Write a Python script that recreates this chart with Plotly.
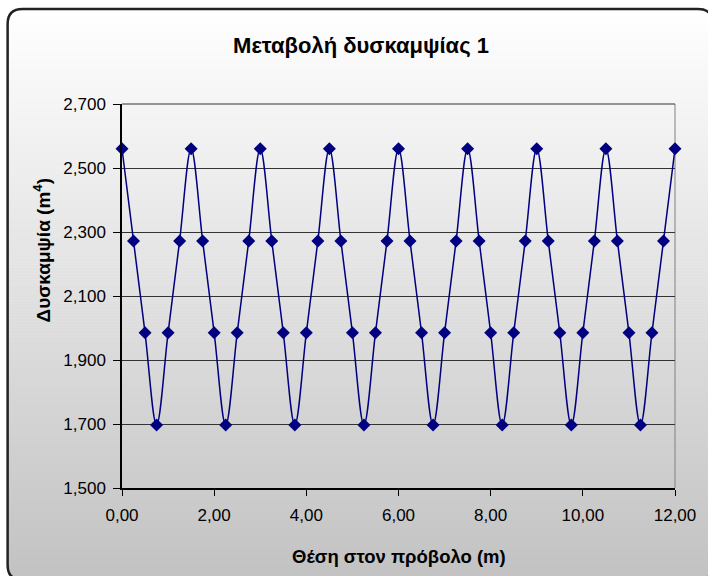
import plotly.graph_objects as go
import math

# ---- data ----
x_pos = [0.00, 0.25, 0.50, 0.75, 1.00, 1.25, 1.50, 1.75, 2.00, 2.25, 2.50, 2.75,
         3.00, 3.25, 3.50, 3.75, 4.00, 4.25, 4.50, 4.75, 5.00, 5.25, 5.50, 5.75,
         6.00, 6.25, 6.50, 6.75, 7.00, 7.25, 7.50, 7.75, 8.00, 8.25, 8.50, 8.75,
         9.00, 9.25, 9.50, 9.75, 10.00, 10.25, 10.50, 10.75, 11.00, 11.25, 11.50, 11.75,
         12.00]
stiffness = [2.560, 2.272, 1.985, 1.697, 1.985, 2.272,
             2.560, 2.272, 1.985, 1.697, 1.985, 2.272,
             2.560, 2.272, 1.985, 1.697, 1.985, 2.272,
             2.560, 2.272, 1.985, 1.697, 1.985, 2.272,
             2.560, 2.272, 1.985, 1.697, 1.985, 2.272,
             2.560, 2.272, 1.985, 1.697, 1.985, 2.272,
             2.560, 2.272, 1.985, 1.697, 1.985, 2.272,
             2.560, 2.272, 1.985, 1.697, 1.985, 2.272,
             2.560]
title_text = "Μεταβολή δυσκαμψίας 1"
x_title = "Θέση στον πρόβολο (m)"
y_title = "Δυσκαμψία (m<sup>4</sup>)"

W, H = 708, 576
ML, MR, MT, MB = 122, 30, 104, 88
PW, PH = W - ML - MR, H - MT - MB

def px(x):
    return (x - ML) / PW

def py(y):
    return 1 - (y - MT) / PH

fig = go.Figure()
fig.add_trace(go.Scatter(
    x=x_pos, y=stiffness, mode="lines+markers",
    line=dict(color="#000080", width=1.5, shape="spline", smoothing=1.0),
    marker=dict(symbol="diamond", size=10, color="#000080"),
    showlegend=False, cliponaxis=False,
))

shapes = []
# gradient background inside rounded border
bx0, by0, bx1, by1, r = 7, 9, 716, 580, 15
n = 190
top_c, bot_c = 255, 194
for i in range(n):
    ya = by0 + (by1 - by0) * i / n
    yb = by0 + (by1 - by0) * (i + 1) / n
    ym = (ya + yb) / 2
    d = min(ym - by0, by1 - ym)
    inset = 0
    if d < r:
        inset = r - math.sqrt(max(r * r - (r - d) ** 2, 0))
    t = (ym - by0) / (by1 - by0)
    c = round(top_c + (bot_c - top_c) * t)
    shapes.append(dict(type="rect", xref="paper", yref="paper",
                       x0=px(bx0 + inset), x1=px(bx1 - inset),
                       y0=py(ya - 0.3), y1=py(yb + 0.3),
                       fillcolor=f"rgb({c},{c},{c})", line=dict(width=0),
                       layer="below"))

# rounded border
def P(x, y):
    return f"{px(x):.5f},{py(y):.5f}"

path = (f"M {P(bx0 + r, by0)} L {P(bx1 - r, by0)} Q {P(bx1, by0)} {P(bx1, by0 + r)} "
        f"L {P(bx1, by1 - r)} Q {P(bx1, by1)} {P(bx1 - r, by1)} "
        f"L {P(bx0 + r, by1)} Q {P(bx0, by1)} {P(bx0, by1 - r)} "
        f"L {P(bx0, by0 + r)} Q {P(bx0, by0)} {P(bx0 + r, by0)} Z")
shapes.append(dict(type="path", xref="paper", yref="paper", path=path,
                   line=dict(color="#222222", width=2.5), layer="below"))
# plot area right / top border
shapes.append(dict(type="line", xref="paper", yref="paper", x0=1, x1=1, y0=0, y1=1,
                   line=dict(color="#808080", width=1), layer="below"))
shapes.append(dict(type="line", xref="paper", yref="paper", x0=0, x1=1, y0=1, y1=1,
                   line=dict(color="#333333", width=1), layer="below"))

fig.update_layout(
    width=W, height=H,
    margin=dict(l=ML, r=MR, t=MT, b=MB),
    paper_bgcolor="white", plot_bgcolor="rgba(0,0,0,0)",
    separators=",.",
    font=dict(family="Liberation Sans, Arial, sans-serif", color="black", size=17),
    title=dict(text=f"<b>{title_text}</b>", x=361 / W, xanchor="center", xref="container",
               y=1 - 45 / H, yanchor="middle", yref="container", font=dict(size=22)),
    shapes=shapes,
    annotations=[
        dict(text=f"<b>{y_title}</b>", xref="paper", yref="paper",
             x=px(42), y=py(250), xanchor="center", yanchor="middle",
             textangle=-90, showarrow=False, font=dict(size=19)),
        dict(text=f"<b>{x_title}</b>", xref="paper", yref="paper",
             x=px(400), y=py(556), xanchor="center", yanchor="middle",
             showarrow=False, font=dict(size=18.5)),
    ],
    xaxis=dict(range=[0, 12], dtick=2, tick0=0, tickformat=".2f",
               showgrid=False, zeroline=False, showline=True, linecolor="black",
               linewidth=1.5, ticks="outside", ticklen=6, tickcolor="black",
               tickfont=dict(size=17), ticklabelstandoff=5),
    yaxis=dict(range=[1.5, 2.7], dtick=0.2, tick0=1.5, tickformat=".3f",
               showgrid=True, gridcolor="#333333", gridwidth=1, zeroline=False,
               showline=True, linecolor="black", linewidth=1.5,
               ticks="outside", ticklen=7, tickcolor="black",
               tickfont=dict(size=17), ticklabelstandoff=4),
)

fig.write_html("out.html")
